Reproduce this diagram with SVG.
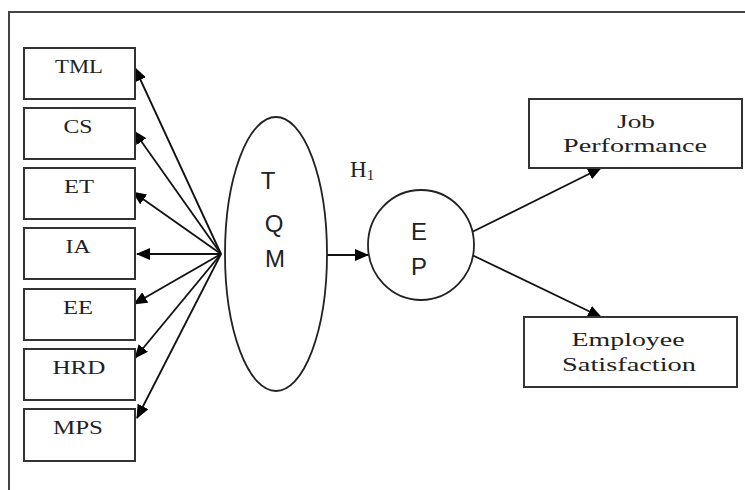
<svg xmlns="http://www.w3.org/2000/svg" width="745" height="490" viewBox="0 0 745 490">
<style>
.box{fill:#fff;stroke:#333;stroke-width:2}
.oval{fill:#fff;stroke:#222;stroke-width:1.8}
.lbl{font-family:"Liberation Serif","Times New Roman",serif;font-size:19px;fill:#222;text-anchor:middle}
.big{font-family:"Liberation Serif","Times New Roman",serif;font-size:19px;fill:#222;text-anchor:middle}
.sans{font-family:"Liberation Sans",Arial,sans-serif;font-size:24px;fill:#222;text-anchor:middle}
.con{stroke:#111;stroke-width:1.8;fill:none;marker-end:url(#ah)}
</style>
<defs>
<marker id="ah" markerUnits="userSpaceOnUse" markerWidth="14" markerHeight="12" refX="13" refY="6" orient="auto">
<path d="M0,0 L14,6 L0,12 Z" fill="#000"/>
</marker>
</defs>
<rect x="0" y="0" width="745" height="490" fill="#fff"/>
<path d="M9,490 L9,12 L745,12" fill="none" stroke="#444" stroke-width="2"/>
<g id="connectors">
<line class="con" x1="221" y1="254" x2="135" y2="68"/>
<line class="con" x1="221" y1="254" x2="134" y2="131"/>
<line class="con" x1="221" y1="254" x2="133" y2="192"/>
<line class="con" x1="221" y1="254" x2="137" y2="254"/>
<line class="con" x1="221" y1="254" x2="134" y2="304"/>
<line class="con" x1="221" y1="254" x2="135" y2="358"/>
<line class="con" x1="221" y1="254" x2="137" y2="418"/>
<line class="con" x1="327" y1="255" x2="368" y2="255"/>
<line class="con" x1="472" y1="232" x2="601" y2="168"/>
<line class="con" x1="472" y1="255" x2="601" y2="317"/>
</g>
<g id="TML"><rect class="box" x="24" y="48" width="111" height="51"/><text class="lbl" x="79" y="73" textLength="48" lengthAdjust="spacingAndGlyphs">TML</text></g>
<g id="CS"><rect class="box" x="24" y="108" width="111" height="51"/><text class="lbl" x="78" y="133" textLength="29" lengthAdjust="spacingAndGlyphs">CS</text></g>
<g id="ET"><rect class="box" x="24" y="168" width="111" height="51"/><text class="lbl" x="79" y="193" textLength="30" lengthAdjust="spacingAndGlyphs">ET</text></g>
<g id="IA"><rect class="box" x="24" y="228" width="111" height="51"/><text class="lbl" x="78" y="253" textLength="25" lengthAdjust="spacingAndGlyphs">IA</text></g>
<g id="EE"><rect class="box" x="24" y="289" width="111" height="51"/><text class="lbl" x="78" y="314" textLength="30" lengthAdjust="spacingAndGlyphs">EE</text></g>
<g id="HRD"><rect class="box" x="24" y="349" width="111" height="51"/><text class="lbl" x="79" y="374" textLength="53" lengthAdjust="spacingAndGlyphs">HRD</text></g>
<g id="MPS"><rect class="box" x="24" y="409" width="111" height="52"/><text class="lbl" x="78" y="434" textLength="50" lengthAdjust="spacingAndGlyphs">MPS</text></g>
<g id="TQM"><ellipse class="oval" cx="276" cy="254" rx="51" ry="137"/>
<text class="sans" x="268" y="189">T</text><text class="sans" x="274" y="232">Q</text><text class="sans" x="275" y="267">M</text></g>
<g id="H1label"><text x="350" y="177" style="font-family:'Liberation Serif','Times New Roman',serif;font-size:23px;fill:#222">H<tspan font-size="15" dy="3">1</tspan></text></g>
<g id="EP"><ellipse class="oval" cx="421" cy="245" rx="53" ry="55"/>
<text class="sans" x="419" y="240">E</text><text class="sans" x="419" y="275">P</text></g>
<g id="JobPerformance"><rect class="box" x="529" y="99" width="213" height="69"/>
<text class="big" x="636" y="128" textLength="38" lengthAdjust="spacingAndGlyphs">Job</text><text class="big" x="635" y="152" textLength="144" lengthAdjust="spacingAndGlyphs">Performance</text></g>
<g id="EmployeeSatisfaction"><rect class="box" x="524" y="317" width="213" height="70"/>
<text class="big" x="628" y="346" textLength="113" lengthAdjust="spacingAndGlyphs">Employee</text><text class="big" x="629" y="371" textLength="134" lengthAdjust="spacingAndGlyphs">Satisfaction</text></g>
</svg>
